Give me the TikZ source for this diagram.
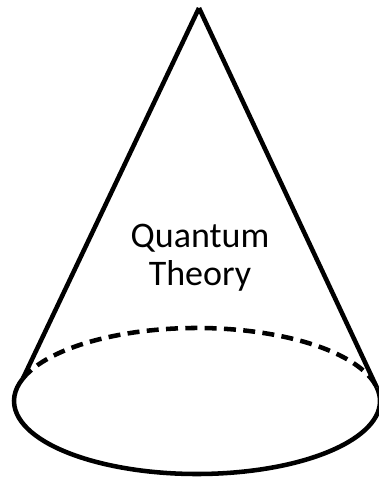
\documentclass[tikz,border=0pt]{standalone}
\usepackage{fontspec}
\setmainfont{Carlito}
\usetikzlibrary{positioning,calc}

\begin{document}
\begin{tikzpicture}[x=0.75pt, y=0.75pt, line join=round,
  rim/.style={line width=3.4pt},
  hidden/.style={line width=3.4pt, dash pattern=on 9pt off 5.5pt},
  every node/.style={font=\fontsize{27}{28.5}\selectfont}]
\useasboundingbox (0,0) rectangle (378,481);
% base of the cone
\coordinate (c) at (197,80);
\coordinate (apex) at (199,473);
\coordinate (bl) at ($(c)+(162:183 and 73)$);
\coordinate (br) at ($(c)+(10.6:183 and 73)$);
\draw[rim] (apex) -- (bl);
\draw[rim] (apex) -- (br);
\draw[rim] (br) arc[start angle=10.6, end angle=-198, x radius=183, y radius=73];
\draw[hidden] (bl) arc[start angle=162, end angle=10.6, x radius=183, y radius=73];
\node[align=center] (label) at (200,223) {Quantum\\Theory};
\end{tikzpicture}
\end{document}
